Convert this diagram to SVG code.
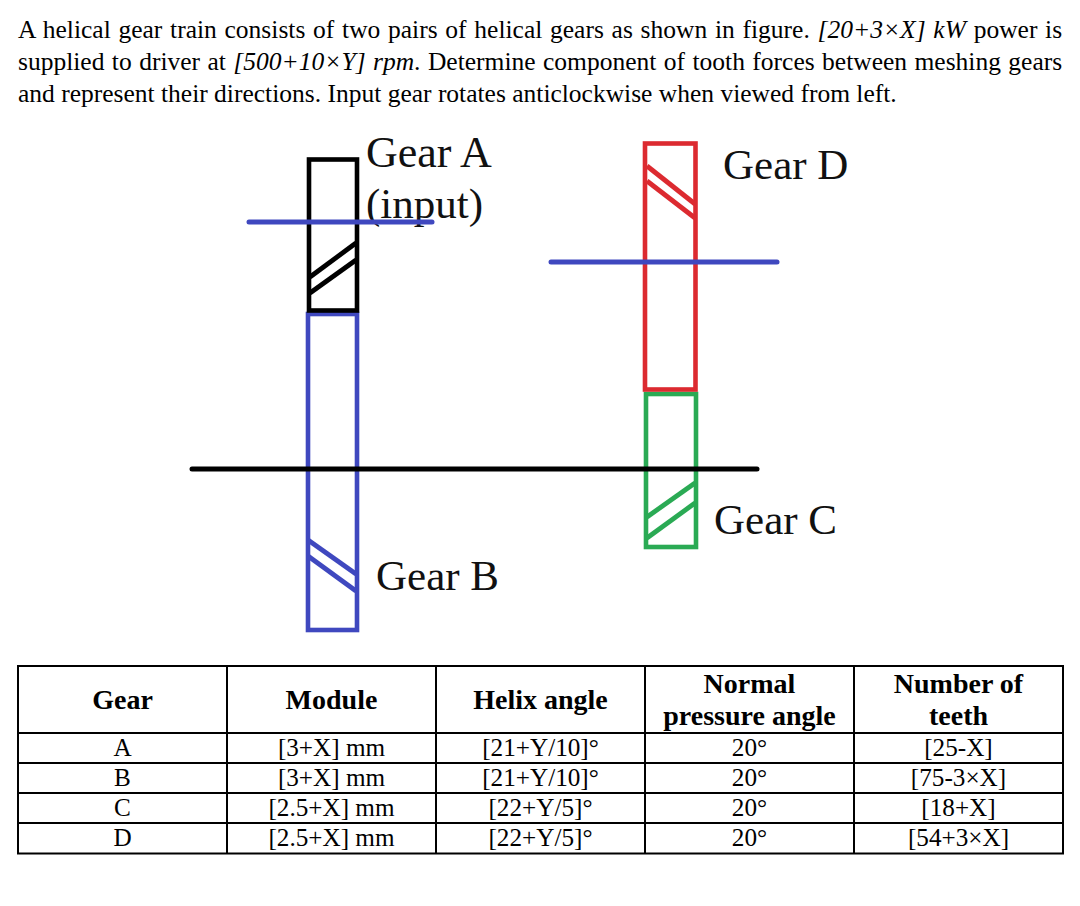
<svg xmlns="http://www.w3.org/2000/svg" width="1080" height="906" viewBox="0 0 1080 906">
<style>
text{font-family:"Liberation Serif","Times New Roman",serif;fill:#000}
.p{font-size:25.5px}
.lab{font-size:43px;fill:#111}
.la{font-size:44px}
.th{font-size:28px;font-weight:bold;text-anchor:middle}
.td{font-size:25.2px;text-anchor:middle}
.g{fill:none;stroke-width:4.6}
.h{fill:none;stroke-width:4.8}
.k{stroke:#000}.b{stroke:#3f48bf}.r{stroke:#dc2a30}.n{stroke:#2aaa54}
.s{fill:none;stroke-width:5;stroke-linecap:round}
.t{fill:none;stroke:#000;stroke-width:2}
</style>
<rect width="1080" height="906" fill="#fff"/>
<g id="problem-text" class="p">
<text x="18" y="38" word-spacing="1.37">A helical gear train consists of two pairs of helical gears as shown in figure. <tspan font-style="italic">[20+3×X] kW</tspan> power is</text>
<text x="18" y="70" word-spacing="1.08">supplied to driver at <tspan font-style="italic">[500+10×Y] rpm</tspan>. Determine component of tooth forces between meshing gears</text>
<text x="18" y="102">and represent their directions. Input gear rotates anticlockwise when viewed from left.</text>
</g>
<g id="gear-b"><rect class="g b" x="308" y="314" width="49" height="316"/><line class="h b" x1="308" y1="540" x2="356" y2="574"/><line class="h b" x1="308" y1="556" x2="356" y2="591"/><text class="lab" x="376" y="590">Gear B</text></g>
<g id="gear-a"><rect class="g k" x="309" y="159.500" width="48" height="151"/><line class="h k" x1="310" y1="277" x2="356" y2="243"/><line class="h k" x1="310" y1="293" x2="356" y2="260"/><text class="lab la" x="366" y="167">Gear A</text><text class="lab" x="366" y="218">(input)</text></g>
<g id="gear-c"><rect class="g n" x="646" y="394" width="50" height="153"/><line class="h n" x1="647" y1="517" x2="695" y2="483"/><line class="h n" x1="647" y1="538" x2="695" y2="503"/><text class="lab" x="714" y="534">Gear C</text></g>
<g id="gear-d"><rect class="g r" x="645" y="143.500" width="50.500" height="246"/><line class="h r" x1="647" y1="166" x2="695" y2="204"/><line class="h r" x1="647" y1="181" x2="695" y2="218"/><text class="lab" x="723" y="179">Gear D</text></g>
<g id="connectors">
<line class="s b" x1="249" y1="222" x2="432" y2="222"/>
<line class="s b" x1="551" y1="262" x2="777" y2="262"/>
<line class="s k" x1="192" y1="469" x2="757" y2="469"/>
</g>
<g id="table">
<rect class="t" x="18" y="666" width="1045" height="187.500"/>
<path class="t" d="M18 733H1063M18 763H1063M18 793H1063M18 823H1063M227 666V853M436 666V853M645 666V853M854 666V853"/>
<text class="th" x="122.500" y="709">Gear</text><text class="th" x="331.500" y="709">Module</text><text class="th" x="540.500" y="709">Helix angle</text>
<text class="th" x="749.500" y="693">Normal</text><text class="th" x="749.500" y="725">pressure angle</text>
<text class="th" x="958.500" y="693">Number of</text><text class="th" x="958.500" y="725">teeth</text>
<text class="td" x="122.500" y="756">A</text><text class="td" x="331.500" y="756">[3+X] mm</text><text class="td" x="540.500" y="756">[21+Y/10]°</text><text class="td" x="749.500" y="756">20°</text><text class="td" x="958.500" y="756">[25-X]</text>
<text class="td" x="122.500" y="786">B</text><text class="td" x="331.500" y="786">[3+X] mm</text><text class="td" x="540.500" y="786">[21+Y/10]°</text><text class="td" x="749.500" y="786">20°</text><text class="td" x="958.500" y="786">[75-3×X]</text>
<text class="td" x="122.500" y="816">C</text><text class="td" x="331.500" y="816">[2.5+X] mm</text><text class="td" x="540.500" y="816">[22+Y/5]°</text><text class="td" x="749.500" y="816">20°</text><text class="td" x="958.500" y="816">[18+X]</text>
<text class="td" x="122.500" y="846">D</text><text class="td" x="331.500" y="846">[2.5+X] mm</text><text class="td" x="540.500" y="846">[22+Y/5]°</text><text class="td" x="749.500" y="846">20°</text><text class="td" x="958.500" y="846">[54+3×X]</text>
</g>
</svg>
